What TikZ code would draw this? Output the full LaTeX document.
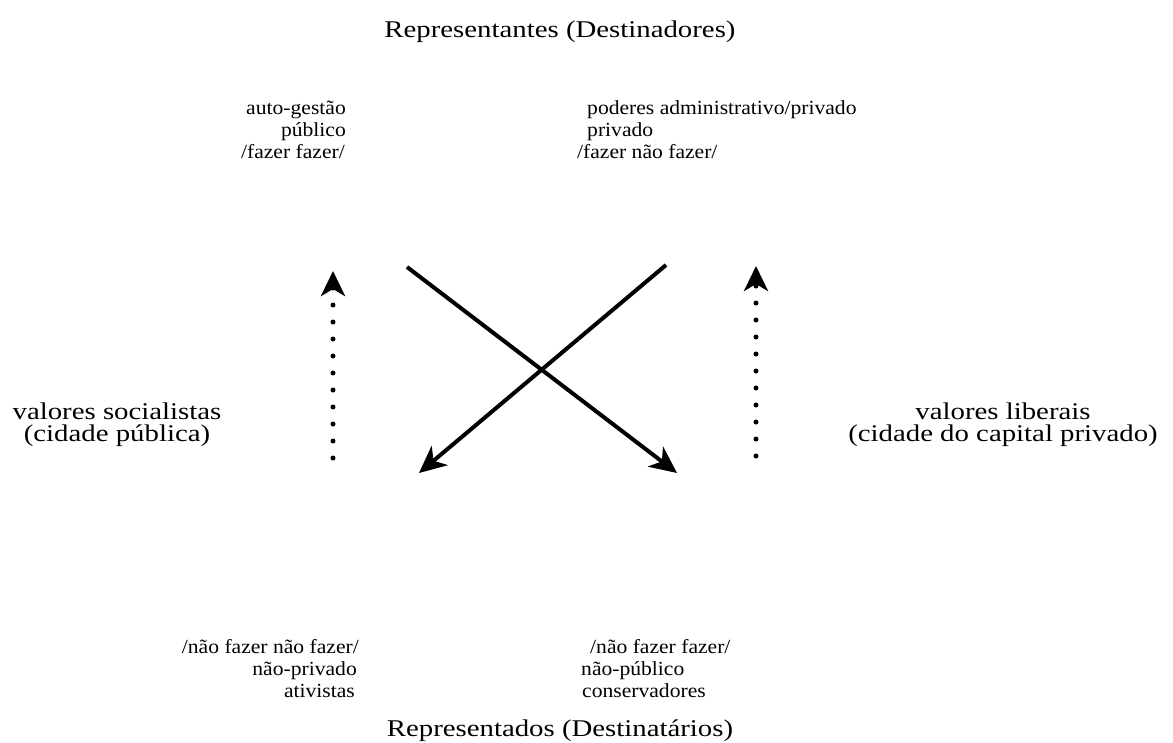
\documentclass[tikz,border=0pt]{standalone}
\usepackage{fontspec}
\setmainfont[FakeStretch=1.2]{Liberation Serif}
\newfontfamily\blkfont[FakeStretch=1.08]{Liberation Serif}
\usetikzlibrary{arrows.meta}
\tikzset{
  lbl/.style={inner sep=0pt, font=\fontsize{24}{25}\selectfont},
  sml/.style={inner sep=0pt, font=\blkfont\fontsize{20}{22}\selectfont},
  cross/.style={line width=4pt, -{Stealth[length=27pt,width=25pt,inset=8pt]}},
  dotarrow/.style={line width=5pt, line cap=round, dash pattern=on 0pt off 17pt, -{Stealth[length=25pt,width=24pt,inset=7pt]}}
}
\begin{document}
\begin{tikzpicture}[x=1pt,y=-1pt]
\useasboundingbox (0,0) rectangle (1173,742);
% titles
\node[lbl, anchor=base] (top) at (560,37) {Representantes (Destinadores)};
\node[lbl, anchor=base] (bot) at (560,736) {Representados (Destinatários)};
% top left
\node[sml, anchor=base east] (tl1) at (346,114) {auto-gestão};
\node[sml, anchor=base east] (tl2) at (346,136) {público};
\node[sml, anchor=base east] (tl3) at (345,158) {/fazer fazer/};
% top right
\node[sml, anchor=base west] (tr1) at (587,114) {poderes administrativo/privado};
\node[sml, anchor=base west] (tr2) at (587,136) {privado};
\node[sml, anchor=base west] (tr3) at (577,158) {/fazer não fazer/};
% middle
\node[lbl, anchor=base] (ml1) at (117,419) {valores socialistas};
\node[lbl, anchor=base] (ml2) at (117,441) {(cidade pública)};
\node[lbl, anchor=base] (mr1) at (1003,419) {valores liberais};
\node[lbl, anchor=base] (mr2) at (1003,441) {(cidade do capital privado)};
% bottom left
\node[sml, anchor=base east] (bl1) at (359,653) {/não fazer não fazer/};
\node[sml, anchor=base east] (bl2) at (357,675) {não-privado};
\node[sml, anchor=base east] (bl3) at (355,697) {ativistas};
% bottom right
\node[sml, anchor=base west] (br1) at (590,653) {/não fazer fazer/};
\node[sml, anchor=base west] (br2) at (581,675) {não-público};
\node[sml, anchor=base west] (br3) at (582,697) {conservadores};
% arrows
\coordinate (a1s) at (407,267);
\coordinate (a1e) at (677,473);
\coordinate (a2s) at (666,265);
\coordinate (a2e) at (419,473);
\coordinate (d1s) at (333,458);
\coordinate (d1e) at (333,271);
\coordinate (d2s) at (756,456);
\coordinate (d2e) at (756,266);
\draw[cross] (a1s) -- (a1e);
\draw[cross] (a2s) -- (a2e);
\draw[dotarrow] (d1s) -- (d1e);
\draw[dotarrow] (d2s) -- (d2e);
\end{tikzpicture}
\end{document}
